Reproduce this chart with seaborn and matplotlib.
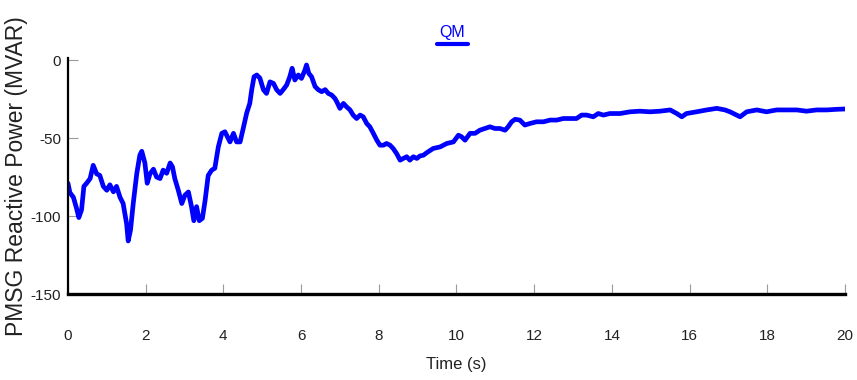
import matplotlib
matplotlib.use("Agg")
import matplotlib.pyplot as plt
from matplotlib.lines import Line2D
import seaborn as sns
import pandas as pd

# ---- data ----
time_s = [0.00, 0.05, 0.14, 0.22, 0.28, 0.35, 0.41, 0.48, 0.57, 0.65, 0.74, 0.82, 0.91, 1.00,
          1.08, 1.17, 1.25, 1.34, 1.42, 1.51, 1.55, 1.61, 1.68, 1.77, 1.85, 1.90, 1.98, 2.04,
          2.11, 2.20, 2.28, 2.37, 2.45, 2.54, 2.63, 2.69, 2.75, 2.84, 2.93, 3.01, 3.10, 3.18,
          3.24, 3.31, 3.38, 3.46, 3.53, 3.61, 3.70, 3.78, 3.87, 3.96, 4.04, 4.10, 4.17, 4.26,
          4.34, 4.43, 4.51, 4.60, 4.68, 4.73, 4.79, 4.86, 4.94, 5.03, 5.11, 5.20, 5.29, 5.37,
          5.46, 5.54, 5.63, 5.71, 5.77, 5.84, 5.93, 6.01, 6.10, 6.14, 6.20, 6.27, 6.36, 6.44,
          6.53, 6.62, 6.70, 6.79, 6.87, 6.92, 7.00, 7.09, 7.17, 7.26, 7.34, 7.43, 7.52, 7.60,
          7.69, 7.77, 7.86, 7.95, 8.03, 8.12, 8.20, 8.29, 8.37, 8.46, 8.55, 8.63, 8.72, 8.80,
          8.89, 8.98, 9.06, 9.15, 9.23, 9.40, 9.58, 9.75, 9.92, 10.05, 10.13, 10.22, 10.35,
          10.48, 10.60, 10.73, 10.86, 10.99, 11.12, 11.25, 11.33, 11.42, 11.51, 11.63, 11.76,
          11.89, 12.06, 12.24, 12.41, 12.58, 12.75, 12.92, 13.09, 13.22, 13.35, 13.52, 13.65,
          13.78, 13.95, 14.21, 14.47, 14.72, 14.98, 15.24, 15.50, 15.67, 15.80, 15.92, 16.18,
          16.44, 16.70, 16.91, 17.04, 17.30, 17.47, 17.73, 17.98, 18.24, 18.50, 18.76, 19.01,
          19.27, 19.53, 19.79, 20.00]
qm_mvar = [-79, -85, -88, -95, -101, -96, -81, -79, -76, -67.5, -73, -74, -81, -83.5,
           -80, -84.5, -81, -88, -92, -105, -116, -109, -92, -73, -61, -58.5, -66, -79,
           -73, -70, -75, -76, -70.6, -72.6, -66, -68.5, -76, -83.5, -92, -86.7, -84.6, -94,
           -103, -94, -103, -101.5, -90, -74, -70.6, -69.4, -55.7, -47, -46, -49, -52.5, -47,
           -52.5, -52.5, -44, -34, -27.8, -19, -10.7, -9.6, -11.6, -19, -21.4, -14, -15, -19,
           -21.4, -19, -16, -10.7, -5.3, -12.8, -9.6, -11.8, -6.4, -3.2, -8.6, -10.7, -17, -19,
           -20.3, -19, -21.4, -22.5, -24.6, -26.8, -31, -27.8, -30, -32, -35.3, -37.5, -35.3, -36.4,
           -40.7, -42.8, -47, -51.4, -54.6, -54.6, -53.5, -54.6, -56.7, -60, -64.2, -63.1, -62, -64.2,
           -62, -63.1, -61.5, -61, -59.5, -56.7, -55.7, -53.5, -52.5, -48.2, -49.2, -51.4, -47,
           -47, -45, -43.9, -42.8, -43.9, -43.9, -45, -42.8, -39.6, -38, -38.5, -41.7,
           -40.7, -39.6, -39.6, -38.5, -38.5, -37.5, -37.5, -37.5, -35.3, -35.3, -36.4, -34.3,
           -35.3, -34.3, -34.3, -33.2, -32.8, -33.2, -32.8, -32, -34.3, -36.4, -34.3, -33.2,
           -32, -31, -32, -33.2, -36.4, -33.2, -32, -33.2, -32, -32, -32, -32.8,
           -32, -32, -31.6, -31.4]
x_ticks = [0, 2, 4, 6, 8, 10, 12, 14, 16, 18, 20]
y_ticks = [-150, -100, -50, 0]
series_name = "QM"

df = pd.DataFrame({"Time (s)": time_s, "Q": qm_mvar})

sns.set_style("white")
plt.rcParams["font.family"] = ["Liberation Sans", "DejaVu Sans"]
plt.rcParams["xtick.direction"] = "in"
plt.rcParams["ytick.direction"] = "in"
plt.rcParams["xtick.bottom"] = True
plt.rcParams["ytick.left"] = True

fig = plt.figure(figsize=(8.57, 3.80), dpi=100)
ax = fig.add_axes([0.0793, 0.2263, 0.9067, 0.6211])

blue = "#0000ff"
sns.lineplot(data=df, x="Time (s)", y="Q", ax=ax, color=blue, linewidth=3.4,
             estimator=None, sort=False, legend=False)

ax.set_xlim(0, 20)
ax.set_ylim(-150, 1.3)
ax.set_xticks(x_ticks)
ax.set_yticks(y_ticks)
ax.set_xticklabels([str(v) for v in x_ticks])
ax.set_yticklabels([str(v) for v in y_ticks])

for s in ["top", "right"]:
    ax.spines[s].set_visible(False)
ax.spines["left"].set_color("black")
ax.spines["left"].set_linewidth(1.6)
ax.spines["bottom"].set_color("black")
ax.spines["bottom"].set_linewidth(2.4)

ax.tick_params(axis="both", which="major", direction="in", length=7, width=0.8,
               color="#9a9a9a", labelsize=11, labelcolor="#222222", bottom=True, left=True)
ax.tick_params(axis="x", pad=25)
ax.tick_params(axis="y", pad=5)

ax.set_xlabel("Time (s)", fontsize=12, color="#222222", labelpad=10)
ax.set_ylabel("PMSG Reactive Power (MVAR)", fontsize=16.5, color="#222222", labelpad=2)

# legend: title text above a short line sample
fig.text(0.5275, 0.895, series_name, ha="center", va="bottom", fontsize=11.5, color=blue)
fig.add_artist(Line2D([0.510, 0.546], [0.884, 0.884], transform=fig.transFigure,
                      color=blue, linewidth=3))

fig.savefig("out.png", dpi=100)
